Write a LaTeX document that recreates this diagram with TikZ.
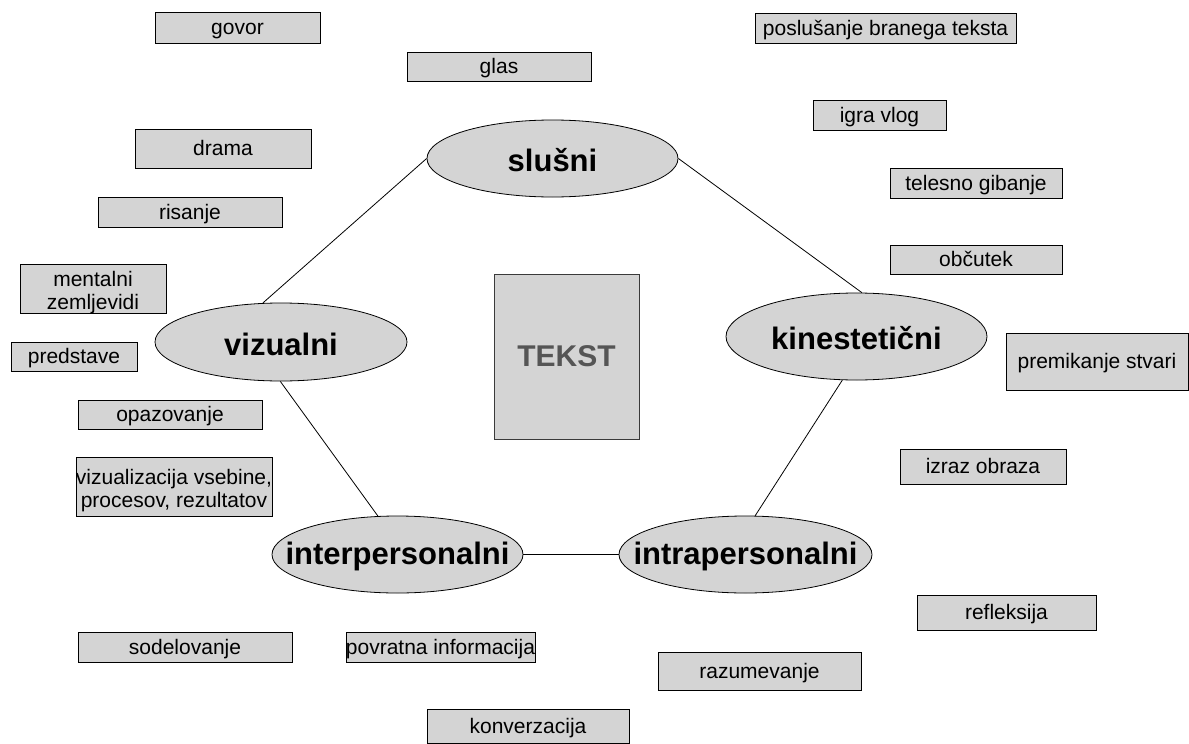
\documentclass[tikz,border=0pt]{standalone}
\usepackage{fontspec}
\setmainfont{Liberation Sans}
\usepackage{xcolor}
\usepackage{tikz}
\usetikzlibrary{shapes.geometric,positioning}
\definecolor{boxGray}{HTML}{D4D4D4}
\definecolor{textGray}{HTML}{555555}
\definecolor{edgeGray}{HTML}{3A3A3A}

\begin{document}
\begin{tikzpicture}[x=1pt,y=-1pt,
    idea/.style={draw=black,fill=boxGray,line width=0.8pt,inner sep=0pt,
      text height=16pt,text depth=2pt,font=\fontsize{21}{23}\selectfont},
    twoline/.style={idea,text height=22.3pt,text depth=2pt},
    mode/.style={ellipse,draw=black,fill=boxGray,line width=0.8pt,inner sep=0pt},
    modelabel/.style={font=\fontsize{31}{34}\selectfont\bfseries,yshift=-2pt},
    link/.style={line width=0.8pt}]
    \useasboundingbox (0,0) rectangle (1189,744);
    % single-line boxes
    \foreach \name/\cx/\cy/\w/\h/\txt in {
        govor/237.5/27.5/165/31/govor,
        glas/499/66.5/184/29/glas,
        poslusanje/885.5/28/261/30/poslušanje branega teksta,
        igra/879.5/115/133/30/igra vlog,
        drama/223/148.5/176/39/drama,
        risanje/190/212/184/30/risanje,
        telesno/976/183/172/30/telesno gibanje,
        obcutek/976/259.5/172/29/občutek,
        predstave/74/356.5/126/29/predstave,
        opazovanje/170/414.5/184/29/opazovanje,
        izraz/983/466.5/166/35/izraz obraza,
        refleksija/1006.5/612.5/179/35/refleksija,
        sodelovanje/185/647/214/30/sodelovanje,
        povratna/440.5/647/185/30/povratna informacija,
        razumevanje/759.5/671/203/38/razumevanje,
        konverzacija/528/726/202/34/konverzacija,
        premikanje/1097/361.5/182/57/premikanje stvari}
      \node[idea,minimum width=\w pt,minimum height=\h pt] (\name) at (\cx,\cy) {\txt};
    % two-line boxes
    \node[twoline,minimum width=146pt,minimum height=49pt] (mentalni) at (93,288.5)
      {\begin{tabular}{@{}c@{}}mentalni\\zemljevidi\end{tabular}};
    \node[twoline,minimum width=192pt,minimum height=59pt] (vizualizacija) at (174,486.5)
      {\begin{tabular}{@{}c@{}}vizualizacija vsebine,\\procesov, rezultatov\end{tabular}};
    % central text
    \node[draw=edgeGray,fill=boxGray,line width=0.8pt,minimum width=145pt,
      minimum height=165pt,text=textGray,font=\fontsize{30}{33}\selectfont\bfseries]
      (tekst) at (566.5,356.5) {TEKST};
    % learning styles
    \node[mode,minimum width=251pt,minimum height=77pt,
      label={[modelabel]center:slušni}] (slu) at (552.5,158.5) {};
    \node[mode,minimum width=261pt,minimum height=87pt,
      label={[modelabel]center:kinestetični}] (kin) at (856.5,336.5) {};
    \node[mode,minimum width=252pt,minimum height=78pt,
      label={[modelabel]center:vizualni}] (viz) at (281,342) {};
    \node[mode,minimum width=251pt,minimum height=77pt,
      label={[modelabel]center:interpersonalni}] (inter) at (397.5,554.5) {};
    \node[mode,minimum width=253pt,minimum height=77pt,
      label={[modelabel]center:intrapersonalni}] (intra) at (745.5,554.5) {};
    % ring of connectors
    \draw[link] (slu.west) -- (viz.115);
    \draw[link] (slu.east) -- (kin.83);
    \draw[link] (kin.252) -- (intra.76);
    \draw[link] (viz.269) -- (inter.117);
    \draw[link] (inter.east) -- (intra.west);
\end{tikzpicture}
\end{document}
